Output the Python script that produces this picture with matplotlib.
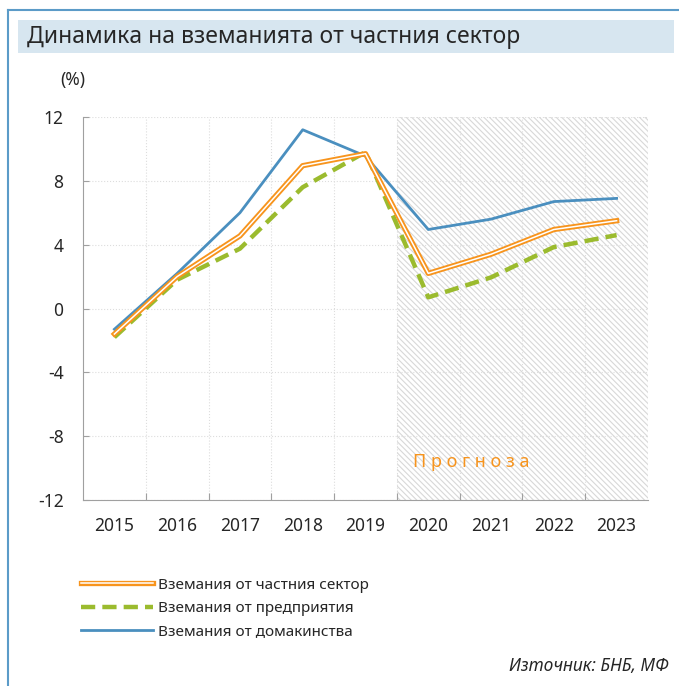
import matplotlib.pyplot as plt
from matplotlib.lines import Line2D
from matplotlib.patches import Rectangle

plt.rcParams['font.family'] = ['Noto Sans', 'DejaVu Sans']
plt.rcParams['axes.unicode_minus'] = False
plt.rcParams['hatch.linewidth'] = 0.8
plt.rcParams['hatch.color'] = "#D8D8D8"

years = ["2015", "2016", "2017", "2018", "2019", "2020", "2021", "2022", "2023"]
private = [-1.6, 2.0, 4.55, 8.95, 9.7, 2.2, 3.4, 4.95, 5.5]
firms = [-1.8, 1.8, 3.75, 7.6, 9.8, 0.7, 1.95, 3.85, 4.6]
households = [-1.3, 2.2, 6.0, 11.2, 9.55, 4.95, 5.6, 6.7, 6.9]
forecast_from = 5  # index of 2020

c_orange = "#F7941D"
c_green = "#9BBB2E"
c_blue = "#4A8FBF"
tcol = "#262626"

fig = plt.figure(figsize=(6.79, 6.86), dpi=100)

# frame and title band
fig.add_artist(Line2D([8/679, 1], [1-10/686, 1-10/686], color="#5B9BC8", lw=1.5))
fig.add_artist(Line2D([8/679, 8/679], [0, 1-10/686], color="#5B9BC8", lw=1.5))
fig.add_artist(Rectangle((18/679, 1-53/686), 656/679, 33/686, color="#D7E6F0", lw=0))
fig.text(27/679, 1-37/686, "Динамика на вземанията от частния сектор",
         fontsize=16.5, color=tcol, va="center", ha="left")

ax = fig.add_axes([83/679, 1-500/686, 565/679, 383/686])
x = list(range(len(years)))

ax.axvspan(forecast_from - 0.5, len(years) - 0.5, facecolor="white",
           edgecolor="#D8D8D8", hatch="\\" * 6, lw=0, zorder=0)
ax.grid(True, color="#DDDDDD", ls=":", lw=0.8, zorder=1)

ax.plot(x, households, color=c_blue, lw=2.0, zorder=3)
ax.plot(x, firms, color=c_green, lw=3.2, dashes=(3.2, 1.6), zorder=4)
ax.plot(x, private, color=c_orange, lw=3.8, zorder=5)
ax.plot(x, private, color="white", lw=1.1, zorder=6)

ax.set_xlim(-0.5, len(years) - 0.5)
ax.set_ylim(-12, 12)
ax.set_yticks(range(-12, 13, 4))
ax.set_xticks([i + 0.5 for i in range(len(years) - 1)], minor=False)
ax.set_xticklabels([])
ax.set_xticks(x, minor=True)
ax.set_xticklabels(years, minor=True)
ax.tick_params(axis="x", which="major", direction="in", length=5, color="#A0A0A0")
ax.tick_params(axis="x", which="minor", length=0, pad=12, labelsize=12.5, labelcolor=tcol)
ax.tick_params(axis="y", direction="in", length=4, color="#A0A0A0", pad=14,
               labelsize=12.5, labelcolor=tcol)
ax.xaxis.grid(False, which="minor")
for s in ["top", "right"]:
    ax.spines[s].set_visible(False)
for s in ["left", "bottom"]:
    ax.spines[s].set_color("#A0A0A0")
ax.plot([len(years) - 0.5] * 2, [-12, 12], color="#E6E6E6", lw=0.8, zorder=1)

ax.text(forecast_from - 0.25, -9.6, "П р о г н о з а", color=c_orange,
        fontsize=13, ha="left", va="center")
fig.text(60/679, 1-80/686, "(%)", fontsize=12.5, color=tcol, ha="left", va="center")

h_private = (Line2D([], [], color=c_orange, lw=3.8), Line2D([], [], color="white", lw=1.1))
h_firms = Line2D([], [], color=c_green, lw=3.2, dashes=(3.2, 1.6))
h_house = Line2D([], [], color=c_blue, lw=2.0)
fig.legend([h_private, h_firms, h_house],
           ["Вземания от частния сектор", "Вземания от предприятия", "Вземания от домакинства"],
           loc="upper left", bbox_to_anchor=(67/679, 1-564/686), frameon=False,
           fontsize=11, handlelength=4.7, handletextpad=0.35, labelspacing=0.55,
           labelcolor=tcol)

fig.text(669/679, 1-666/686, "Източник: БНБ, МФ", fontsize=12.5, style="italic",
         color=tcol, ha="right", va="center")

fig.savefig("out.png", dpi=100)
